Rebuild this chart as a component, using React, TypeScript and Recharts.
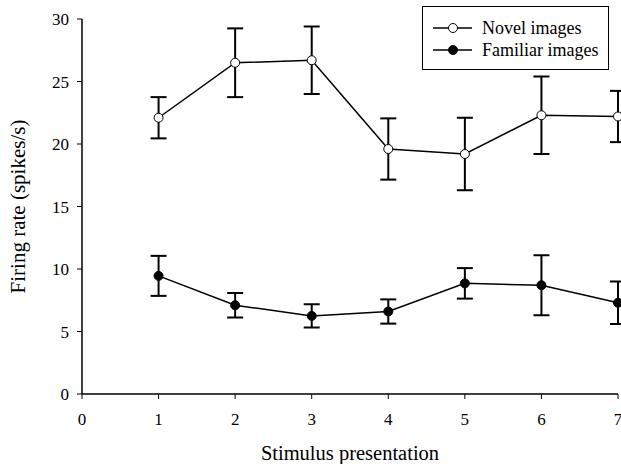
import React from 'react';
import { LineChart, Line, XAxis, YAxis, ErrorBar, Legend } from 'recharts';

const presentations = [1, 2, 3, 4, 5, 6, 7];
const novelRates = [22.1, 26.5, 26.7, 19.6, 19.2, 22.3, 22.2];
const novelErrors = [1.65, 2.75, 2.7, 2.45, 2.9, 3.1, 2.05];
const familiarRates = [9.45, 7.1, 6.25, 6.6, 8.85, 8.7, 7.3];
const familiarErrors = [1.6, 0.98, 0.93, 0.97, 1.22, 2.4, 1.7];
const xTicks = [0, 1, 2, 3, 4, 5, 6, 7];
const yTicks = [0, 5, 10, 15, 20, 25, 30];
const seriesNames = ['Novel images', 'Familiar images'];

const data = presentations.map((x, i) => ({
  x,
  novel: novelRates[i],
  novelErr: novelErrors[i],
  familiar: familiarRates[i],
  familiarErr: familiarErrors[i],
}));

const FONT = '"Liberation Serif", "Times New Roman", Times, serif';

const LegendBox = () => (
  <div
    style={{
      width: 187,
      height: 64,
      border: '1px solid #000',
      background: '#fff',
      boxSizing: 'border-box',
      position: 'relative',
      fontFamily: FONT,
      fontSize: 18,
      color: '#000',
      textAlign: 'left',
    }}
  >
    {seriesNames.map((name, i) => (
      <div
        key={name}
        style={{ position: 'absolute', left: 0, top: 10 + i * 22, height: 22, display: 'flex', alignItems: 'center' }}
      >
        <svg width={59} height={22} style={{ display: 'block' }}>
          <line x1={10} x2={49} y1={11} y2={11} stroke="#000" strokeWidth={1.5} />
          <circle cx={30} cy={11} r={4.5} fill={i === 0 ? '#fff' : '#000'} stroke="#000" strokeWidth={1} />
        </svg>
        <span style={{ whiteSpace: 'nowrap', lineHeight: '22px' }}>{name}</span>
      </div>
    ))}
  </div>
);

export default function App() {
  return (
    <div style={{ position: 'absolute', left: 0, top: 0, width: 621, height: 464, background: '#fff' }}>
      <LineChart width={621} height={464} data={data} margin={{ top: 19, right: 3, bottom: 20, left: 22 }}>
        <XAxis
          dataKey="x"
          type="number"
          domain={[0, 7]}
          ticks={xTicks}
          interval={0}
          height={50}
          tickSize={5}
          tickMargin={14}
          axisLine={{ stroke: '#000', strokeWidth: 1.5 }}
          tickLine={{ stroke: '#000', strokeWidth: 1 }}
          tick={{ fill: '#000', fontSize: 17, fontFamily: FONT }}
          label={{ value: 'Stimulus presentation', position: 'insideBottom', offset: -16, fill: '#000', fontSize: 20.5, fontFamily: FONT }}
        />
        <YAxis
          type="number"
          domain={[0, 30]}
          ticks={yTicks}
          interval={0}
          width={60}
          tickSize={5}
          tickMargin={8}
          axisLine={{ stroke: '#000', strokeWidth: 1.5 }}
          tickLine={{ stroke: '#000', strokeWidth: 1 }}
          tick={{ fill: '#000', fontSize: 17, fontFamily: FONT }}
          label={{ value: 'Firing rate (spikes/s)', angle: -90, position: 'insideLeft', offset: -4, style: { textAnchor: 'middle' }, fill: '#000', fontSize: 21, fontFamily: FONT }}
        />
        <Legend
          content={() => <LegendBox />}
          layout="horizontal"
          verticalAlign="middle"
          align="center"
          wrapperStyle={{ position: 'absolute', left: 422, top: 6, width: 187, height: 64 }}
        />
        <Line
          dataKey="novel"
          name={seriesNames[0]}
          stroke="#000"
          strokeWidth={1.5}
          isAnimationActive={false}
          dot={{ r: 4.5, fill: '#fff', stroke: '#000', strokeWidth: 1 }}
          activeDot={false}
        >
          <ErrorBar dataKey="novelErr" width={8} stroke="#000" strokeWidth={2} direction="y" isAnimationActive={false} />
        </Line>
        <Line
          dataKey="familiar"
          name={seriesNames[1]}
          stroke="#000"
          strokeWidth={1.5}
          isAnimationActive={false}
          dot={{ r: 4.5, fill: '#000', stroke: '#000', strokeWidth: 1 }}
          activeDot={false}
        >
          <ErrorBar dataKey="familiarErr" width={8} stroke="#000" strokeWidth={2} direction="y" isAnimationActive={false} />
        </Line>
      </LineChart>
    </div>
  );
}
